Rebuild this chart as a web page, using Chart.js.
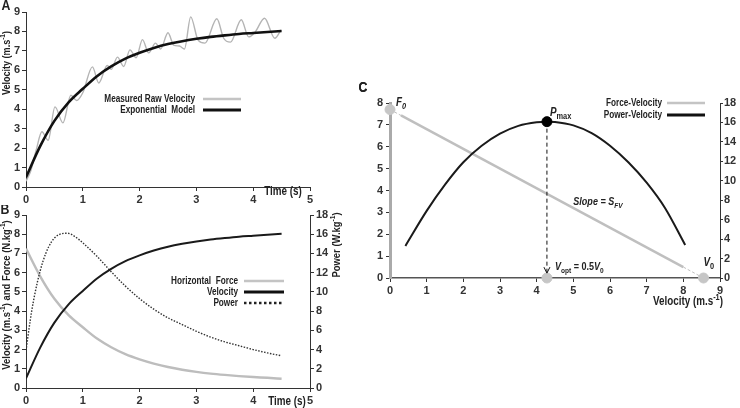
<!DOCTYPE html>
<html>
<head>
<meta charset="utf-8">
<script src="https://cdn.jsdelivr.net/npm/chart.js@4.4.1/dist/chart.umd.min.js"></script>
<style>
  body { margin: 0; background: #fff; width: 740px; height: 408px; position: relative; overflow: hidden; }
  canvas { position: absolute; }
</style>
</head>
<body>
<canvas id="chartA" width="370" height="205" style="left:0;top:0"></canvas>
<canvas id="chartB" width="370" height="203" style="left:0;top:205px"></canvas>
<canvas id="chartC" width="385" height="240" style="left:355px;top:80px"></canvas>
<script>
// Panel A / B : sprint velocity, force and power against time
const timeGrid = [0, 0.25, 0.5, 0.75, 1, 1.25, 1.5, 1.75, 2, 2.25, 2.5, 2.75, 3, 3.25, 3.5, 3.75, 4, 4.25, 4.5];
const modelVelocity = [0.5, 2.1, 3.4, 4.35, 5.05, 5.7, 6.2, 6.6, 6.9, 7.15, 7.35, 7.5, 7.62, 7.72, 7.8, 7.87, 7.92, 7.97, 8.02];
const horizontalForce = [7.25, 5.81, 4.64, 3.79, 3.16, 2.57, 2.12, 1.76, 1.49, 1.27, 1.09, 0.95, 0.84, 0.75, 0.68, 0.62, 0.57, 0.53, 0.48];

const rawTime = [0, 0.08, 0.18, 0.28, 0.39, 0.51, 0.65, 0.79, 0.89, 1.0, 1.17, 1.28, 1.43, 1.5, 1.61, 1.72, 1.83, 1.94, 2.05, 2.16, 2.28, 2.37, 2.5, 2.6, 2.7, 2.79, 2.9, 3.03, 3.15, 3.36, 3.48, 3.6, 3.79, 3.92, 4.03, 4.2, 4.38, 4.49];
const rawVelocity = [0.3, 0.8, 1.9, 2.84, 2.4, 4.12, 3.3, 4.72, 4.45, 4.85, 6.18, 5.35, 6.25, 6.05, 6.68, 6.2, 7.05, 6.65, 7.58, 6.9, 7.4, 7.1, 7.93, 7.3, 7.25, 7.1, 8.75, 7.55, 7.4, 8.65, 7.65, 7.45, 8.6, 7.72, 7.95, 8.68, 7.65, 8.08];

const powerTime = [0, 0.1, 0.2, 0.3, 0.4, 0.5, 0.6, 0.73, 0.85, 1, 1.25, 1.5, 1.75, 2, 2.25, 2.5, 2.75, 3, 3.25, 3.5, 3.75, 4, 4.25, 4.5];
const powerValues = [3.9, 8.0, 11.0, 13.2, 14.7, 15.6, 16.0, 16.1, 15.8, 15.1, 13.7, 12.1, 10.6, 9.3, 8.2, 7.3, 6.6, 5.9, 5.3, 4.8, 4.4, 4.0, 3.65, 3.35];

// Panel C : force-velocity and power-velocity profiles
const fvVelocity = [0, 0.3, 8.0, 8.55];
const fvForce = [7.7, 7.43, 0.5, 0];
const pvVelocity = [0.42, 1, 1.5, 2, 2.5, 3, 3.5, 4, 4.28, 4.5, 5, 5.5, 6, 6.5, 7, 7.5, 8.05];
const pvPower = [3.3, 6.9, 9.6, 11.9, 13.6, 14.85, 15.65, 16.02, 16.08, 16.05, 15.7, 14.9, 13.6, 11.9, 9.8, 7.2, 3.4];
const markerVelocity = [0, 4.28, 8.55];   // F0, Vopt, V0
const markerForce = [7.7, 0, 0];
const pmaxVelocity = [4.28];
const pmaxPower = [16.08];
const arrowVelocity = [4.28, 4.28];
const arrowPower = [16.08, 0.5];

const FONT = "'Liberation Sans', Arial, sans-serif";
const SQUEEZE = 0.82; // the original uses a narrow font
Chart.defaults.font.family = FONT;
Chart.defaults.font.weight = 'bold';
Chart.defaults.color = '#333';

const pts = (xs, ys) => xs.map((x, i) => ({ x: x, y: ys[i] }));

function axis(min, max, step, pos, size) {
  return {
    type: 'linear', position: pos, min: min, max: max,
    grid: { display: true, drawOnChartArea: false, drawTicks: true, tickLength: 4, color: '#333' },
    border: { display: true, color: '#333', width: 1 },
    ticks: { stepSize: step, color: '#333', font: { size: 11, weight: 'bold' }, padding: 2 },
    afterFit: s => { if (pos === 'bottom') s.height = size; else s.width = size; }
  };
}

function runFont(size, r) {
  const s = (r.sub || r.sup) ? Math.round(size * 0.72) : size;
  return (r.i ? 'italic ' : '') + 'bold ' + s + 'px ' + FONT;
}
function drawRuns(ctx, runs, x, y, size, align, angle) {
  ctx.save();
  ctx.translate(x, y);
  if (angle) ctx.rotate(angle);
  ctx.scale(SQUEEZE, 1);
  ctx.textBaseline = 'middle';
  ctx.textAlign = 'left';
  ctx.fillStyle = '#222';
  let total = 0;
  const widths = runs.map(r => { ctx.font = runFont(size, r); const w = ctx.measureText(r.t).width; total += w; return w; });
  let cx = align === 'right' ? -total : align === 'center' ? -total / 2 : 0;
  runs.forEach((r, i) => {
    ctx.font = runFont(size, r);
    const dy = r.sub ? size * 0.3 : r.sup ? -size * 0.35 : 0;
    ctx.fillText(r.t, cx, dy);
    cx += widths[i];
  });
  ctx.restore();
}
function legendLine(ctx, x1, x2, y, color, width, dash) {
  ctx.save();
  ctx.strokeStyle = color;
  ctx.lineWidth = width;
  ctx.setLineDash(dash || []);
  ctx.beginPath();
  ctx.moveTo(x1, y);
  ctx.lineTo(x2, y);
  ctx.stroke();
  ctx.restore();
}

const baseOptions = {
  responsive: false, maintainAspectRatio: false, animation: false, devicePixelRatio: 1,
  plugins: { legend: { display: false }, tooltip: { enabled: false } },
  elements: { point: { radius: 0 } }
};

// ---------- A ----------
new Chart(document.getElementById('chartA'), {
  type: 'line',
  data: {
    datasets: [
      { label: 'Exponential Model', data: pts(timeGrid, modelVelocity), borderColor: '#111', borderWidth: 2.6, cubicInterpolationMode: 'monotone' },
      { label: 'Measured Raw Velocity', data: pts(rawTime, rawVelocity), borderColor: '#b4b4b4', borderWidth: 1.4, cubicInterpolationMode: 'monotone' }
    ]
  },
  options: Object.assign({}, baseOptions, {
    layout: { padding: { top: 12, right: 60, left: 0, bottom: 0 } },
    scales: { x: axis(0, 5, 1, 'bottom', 18), y: axis(0, 9, 1, 'left', 26) }
  }),
  plugins: [{
    id: 'decorA',
    afterDraw(chart) {
      const ctx = chart.ctx;
      drawRuns(ctx, [{ t: 'A' }], 6, 6, 15, 'center');
      drawRuns(ctx, [{ t: 'C' }], 363, 88, 15, 'center');
      drawRuns(ctx, [{ t: 'Velocity (m.s' }, { t: '-1', sup: true }, { t: ')' }], 7, 63, 11, 'center', -Math.PI / 2);
      drawRuns(ctx, [{ t: 'Time (s)' }], 283, 192, 12, 'center');
      drawRuns(ctx, [{ t: 'Measured Raw Velocity' }], 195, 99, 10, 'right');
      drawRuns(ctx, [{ t: 'Exponential  Model' }], 195, 110, 10, 'right');
      legendLine(ctx, 203, 241, 99, '#c4c4c4', 2.5);
      legendLine(ctx, 203, 241, 110, '#111', 3);
    }
  }]
});

// ---------- B ----------
new Chart(document.getElementById('chartB'), {
  type: 'line',
  data: {
    datasets: [
      { label: 'Velocity', data: pts(timeGrid, modelVelocity), borderColor: '#1a1a1a', borderWidth: 2, cubicInterpolationMode: 'monotone', yAxisID: 'y' },
      { label: 'Power', data: pts(powerTime, powerValues), borderColor: '#333', borderWidth: 1.4, borderDash: [1.5, 1.5], cubicInterpolationMode: 'monotone', yAxisID: 'y2' },
      { label: 'Horizontal Force', data: pts(timeGrid, horizontalForce), borderColor: '#bdbdbd', borderWidth: 2.4, cubicInterpolationMode: 'monotone', yAxisID: 'y' }
    ]
  },
  options: Object.assign({}, baseOptions, {
    layout: { padding: { top: 10, right: 40, left: 0, bottom: 0 } },
    scales: {
      x: axis(0, 5, 1, 'bottom', 20),
      y: axis(0, 9, 1, 'left', 26),
      y2: axis(0, 18, 2, 'right', 20)
    }
  }),
  plugins: [{
    id: 'decorB',
    afterDraw(chart) {
      const ctx = chart.ctx;
      drawRuns(ctx, [{ t: 'B' }], 5, 5, 15, 'center');
      drawRuns(ctx, [{ t: 'Velocity (m.s' }, { t: '-1', sup: true }, { t: ') and Force (N.kg' }, { t: '-1', sup: true }, { t: ')' }], 7, 90, 11.5, 'center', -Math.PI / 2);
      drawRuns(ctx, [{ t: 'Power (W.kg' }, { t: '-1', sup: true }, { t: ')' }], 337, 40, 11.5, 'center', -Math.PI / 2);
      drawRuns(ctx, [{ t: 'Time (s)' }], 287, 197, 12, 'center');
      drawRuns(ctx, [{ t: 'Horizontal  Force' }], 238, 76, 10, 'right');
      drawRuns(ctx, [{ t: 'Velocity' }], 238, 87, 10, 'right');
      drawRuns(ctx, [{ t: 'Power' }], 238, 98, 10, 'right');
      legendLine(ctx, 244, 284, 76, '#c4c4c4', 2.5);
      legendLine(ctx, 244, 284, 87, '#111', 3);
      legendLine(ctx, 244, 284, 98, '#222', 2.5, [2.5, 2.5]);
    }
  }]
});

// ---------- C ----------
const xC = axis(0, 9, 1, 'bottom', 42);
xC.border = { display: true, color: '#555', width: 1.5 };
const yC = axis(0, 8, 1, 'left', 20);
yC.border = { display: true, color: '#aaa', width: 3 };
yC.ticks.padding = 3;
const y2C = axis(0, 18, 2, 'right', 20);
y2C.grid.tickLength = 3;
y2C.ticks.padding = 1;

new Chart(document.getElementById('chartC'), {
  type: 'line',
  data: {
    datasets: [
      { label: 'Pmax', data: pts(pmaxVelocity, pmaxPower), showLine: false, pointRadius: 5, pointBackgroundColor: '#000', pointBorderColor: '#000', yAxisID: 'y2', clip: false },
      { label: 'markers', data: pts(markerVelocity, markerForce), showLine: false, pointRadius: 5, pointBackgroundColor: '#c6c6c6', pointBorderColor: '#c6c6c6', yAxisID: 'y', clip: false },
      { label: 'arrow', data: pts(arrowVelocity, arrowPower), borderColor: '#111', borderWidth: 1, borderDash: [4, 3], yAxisID: 'y2' },
      { label: 'Power-Velocity', data: pts(pvVelocity, pvPower), borderColor: '#1a1a1a', borderWidth: 2, cubicInterpolationMode: 'monotone', yAxisID: 'y2' },
      { label: 'Force-Velocity', data: pts(fvVelocity.slice(1, 3), fvForce.slice(1, 3)), borderColor: '#bfbfbf', borderWidth: 2.5, yAxisID: 'y' },
      { label: 'fv-start', data: pts(fvVelocity.slice(0, 2), fvForce.slice(0, 2)), borderColor: '#bfbfbf', borderWidth: 1, borderDash: [3, 2], yAxisID: 'y' },
      { label: 'fv-end', data: pts(fvVelocity.slice(2), fvForce.slice(2)), borderColor: '#bfbfbf', borderWidth: 1, borderDash: [3, 2], yAxisID: 'y' }
    ]
  },
  options: Object.assign({}, baseOptions, {
    layout: { padding: { top: 23, right: 0, left: 15, bottom: 0 } },
    scales: { x: xC, y: yC, y2: y2C }
  }),
  plugins: [{
    id: 'decorC',
    afterDraw(chart) {
      const ctx = chart.ctx;
      const sx = chart.scales.x, sy = chart.scales.y, sp = chart.scales.y2;
      const f0 = { x: sx.getPixelForValue(markerVelocity[0]), y: sy.getPixelForValue(markerForce[0]) };
      const vopt = { x: sx.getPixelForValue(markerVelocity[1]), y: sy.getPixelForValue(markerForce[1]) };
      const v0 = { x: sx.getPixelForValue(markerVelocity[2]), y: sy.getPixelForValue(markerForce[2]) };
      const pm = { x: sx.getPixelForValue(pmaxVelocity[0]), y: sp.getPixelForValue(pmaxPower[0]) };
      const tip = { x: sx.getPixelForValue(arrowVelocity[1]), y: sp.getPixelForValue(arrowPower[1]) };

      // arrow head
      ctx.save();
      ctx.strokeStyle = '#111';
      ctx.lineWidth = 1;
      ctx.beginPath();
      ctx.moveTo(tip.x - 3, tip.y - 6);
      ctx.lineTo(tip.x, tip.y);
      ctx.lineTo(tip.x + 3, tip.y - 6);
      ctx.stroke();
      ctx.restore();

      drawRuns(ctx, [{ t: 'C' }], 8, 8, 15, 'center');
      drawRuns(ctx, [{ t: 'F', i: true }, { t: '0', sub: true, i: true }], f0.x + 6, f0.y - 7, 12, 'left');
      drawRuns(ctx, [{ t: 'P', i: true }, { t: 'max', sub: true }], pm.x + 3, pm.y - 9, 12, 'left');
      drawRuns(ctx, [{ t: 'Slope = S', i: true }, { t: 'FV', sub: true, i: true }], sx.getPixelForValue(5.0), sy.getPixelForValue(3.47), 11, 'left');
      drawRuns(ctx, [{ t: 'V', i: true }, { t: 'opt', sub: true }, { t: ' = 0.5' }, { t: 'V', i: true }, { t: '0', sub: true }], vopt.x + 8, vopt.y - 11, 11, 'left');
      drawRuns(ctx, [{ t: 'V', i: true }, { t: '0', sub: true }], v0.x, v0.y - 15, 12, 'left');
      drawRuns(ctx, [{ t: 'Velocity (m.s' }, { t: '-1', sup: true }, { t: ')' }], 368, 222, 12, 'right');

      drawRuns(ctx, [{ t: 'Force-Velocity' }], 307, 23, 10, 'right');
      drawRuns(ctx, [{ t: 'Power-Velocity' }], 307, 35, 10, 'right');
      legendLine(ctx, 312, 350, 23, '#c4c4c4', 2.5);
      legendLine(ctx, 312, 350, 35, '#111', 3);
    }
  }]
});
</script>
</body>
</html>
